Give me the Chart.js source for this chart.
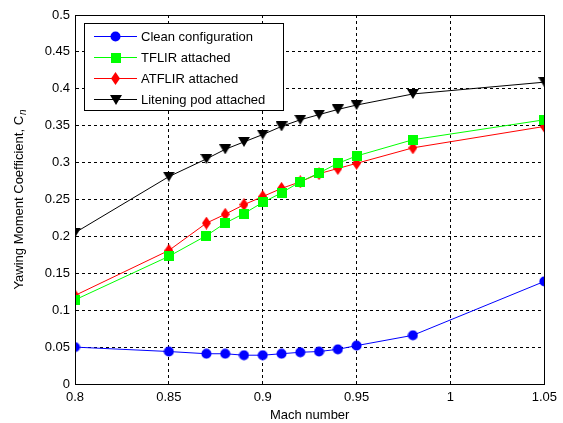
<!DOCTYPE html>
<html lang="en">
  <head>
    <title>Yawing moment coefficient</title>
    <style>
      body { margin: 0; background: #fff; }
      #wrap { width: 563px; height: 423px; }
    </style>
  </head>
  <body>
    <div id="wrap"><canvas id="chart" width="563" height="423"></canvas></div>
    <script src="https://cdn.jsdelivr.net/npm/chart.js"></script>
    <script>
      const machNumbers = [0.8, 0.85, 0.87, 0.88, 0.89, 0.9, 0.91, 0.92, 0.93, 0.94, 0.95, 0.98, 1.05];
      const cleanConfig = [0.050, 0.044, 0.041, 0.041, 0.039, 0.039, 0.041, 0.043, 0.044, 0.047, 0.052, 0.066, 0.139];
      const tflirAttached = [0.114, 0.173, 0.201, 0.218, 0.231, 0.246, 0.259, 0.274, 0.286, 0.299, 0.309, 0.331, 0.358];
      const atflirAttached = [0.120, 0.181, 0.218, 0.230, 0.243, 0.254, 0.265, 0.274, 0.285, 0.292, 0.299, 0.320, 0.349];
      const liteningAttached = [0.205, 0.281, 0.305, 0.318, 0.328, 0.338, 0.349, 0.358, 0.365, 0.372, 0.378, 0.393, 0.409];
      const seriesLabels = ["Clean configuration", "TFLIR attached", "ATFLIR attached", "Litening pod attached"];
      const xTicks = [0.8, 0.85, 0.9, 0.95, 1, 1.05];
      const yTicks = [0, 0.05, 0.1, 0.15, 0.2, 0.25, 0.3, 0.35, 0.4, 0.45, 0.5];

      const FONT = "'Liberation Sans', Arial, sans-serif";

      // matlab-ish markers as small canvases
      let makeMarker = function (w, h, color, draw) {
        let c = document.createElement("canvas");
        c.width = w;
        c.height = h;
        let ctx = c.getContext("2d");
        ctx.fillStyle = color;
        ctx.beginPath();
        draw(ctx);
        ctx.fill();
        return c;
      };
      let markers = [
        makeMarker(11, 11, "#0000ff", (ctx) => ctx.arc(5.5, 5.5, 5, 0, Math.PI * 2)),
        makeMarker(10, 10, "#00ff00", (ctx) => ctx.rect(0, 0, 10, 10)),
        makeMarker(9, 13, "#ff0000", (ctx) => {
          ctx.moveTo(4.5, 0); ctx.lineTo(9, 6.5); ctx.lineTo(4.5, 13); ctx.lineTo(0, 6.5); ctx.closePath();
        }),
        makeMarker(12, 10, "#000000", (ctx) => {
          ctx.moveTo(0, 0); ctx.lineTo(12, 0); ctx.lineTo(6, 10); ctx.closePath();
        }),
      ];
      let colors = ["#0000ff", "#00ff00", "#ff0000", "#000000"];
      let values = [cleanConfig, tflirAttached, atflirAttached, liteningAttached];

      let datasets = values.map(function (vals, i) {
        return {
          label: seriesLabels[i],
          data: vals.map((y, j) => ({ x: machNumbers[j], y: y })),
          borderColor: colors[i],
          backgroundColor: colors[i],
          borderWidth: 1,
          pointStyle: markers[i],
          tension: 0,
        };
      });

      let fmt = (v) => String(+v.toFixed(2));

      let matlabDecor = {
        id: "matlabDecor",
        afterDraw: function (chart) {
          let ctx = chart.ctx;
          let a = chart.chartArea;
          ctx.save();
          // box round the axes
          ctx.strokeStyle = "#000";
          ctx.lineWidth = 1;
          ctx.strokeRect(Math.round(a.left) + 0.5, Math.round(a.top) + 0.5, Math.round(a.right - a.left), Math.round(a.bottom - a.top));

          // legend
          let lx = 84, ly = 23, lw = 199, lh = 87;
          ctx.fillStyle = "#fff";
          ctx.fillRect(lx, ly, lw, lh);
          ctx.strokeRect(lx + 0.5, ly + 0.5, lw, lh);
          ctx.font = "13px " + FONT;
          ctx.textBaseline = "middle";
          ctx.textAlign = "left";
          for (let i = 0; i < seriesLabels.length; i++) {
            let y = 36 + i * 21;
            ctx.strokeStyle = colors[i];
            ctx.beginPath();
            ctx.moveTo(94, y + 0.5);
            ctx.lineTo(137, y + 0.5);
            ctx.stroke();
            let m = markers[i];
            ctx.drawImage(m, Math.round(115.5 - m.width / 2), Math.round(y + 0.5 - m.height / 2));
            ctx.fillStyle = "#000";
            ctx.fillText(seriesLabels[i], 141, y + 1);
          }

          // y title with subscript n
          ctx.translate(19, 200);
          ctx.rotate(-Math.PI / 2);
          ctx.fillStyle = "#000";
          let main = "Yawing Moment Coefficient, C";
          ctx.font = "13px " + FONT;
          let w1 = ctx.measureText(main).width;
          ctx.font = "italic 10px " + FONT;
          let w2 = ctx.measureText("n").width;
          let x0 = -(w1 + w2) / 2;
          ctx.font = "13px " + FONT;
          ctx.textBaseline = "middle";
          ctx.fillText(main, x0, 0);
          ctx.font = "italic 10px " + FONT;
          ctx.fillText("n", x0 + w1 + 1, 4);
          ctx.restore();
        },
      };

      Chart.defaults.font.family = FONT;
      Chart.defaults.font.size = 13;
      Chart.defaults.color = "#000";

      new Chart(document.getElementById("chart"), {
        type: "line",
        data: { datasets: datasets },
        options: {
          responsive: false,
          animation: false,
          layout: { padding: { top: 15, right: 18, bottom: 0, left: 0 } },
          plugins: {
            legend: { display: false },
            tooltip: { enabled: false },
          },
          scales: {
            x: {
              type: "linear",
              min: 0.8,
              max: 1.05,
              afterBuildTicks: (scale) => { scale.ticks = xTicks.map((v) => ({ value: v })); },
              afterFit: (scale) => { scale.height = 39; },
              ticks: { callback: fmt, padding: 6, maxRotation: 0, autoSkip: false },
              grid: { color: "#000", drawTicks: false, tickBorderDash: [3, 3] },
              border: { color: "#000", dash: [3, 3] },
              title: { display: true, text: "Mach number", padding: 0, font: { size: 13 } },
            },
            y: {
              min: 0,
              max: 0.5,
              afterBuildTicks: (scale) => { scale.ticks = yTicks.map((v) => ({ value: v })); },
              afterFit: (scale) => { scale.width = 75; },
              ticks: { callback: fmt, padding: 5, autoSkip: false },
              grid: { color: "#000", drawTicks: false },
              border: { color: "#000", dash: [3, 3] },
            },
          },
        },
        plugins: [matlabDecor],
      });
    </script>
  </body>
</html>
